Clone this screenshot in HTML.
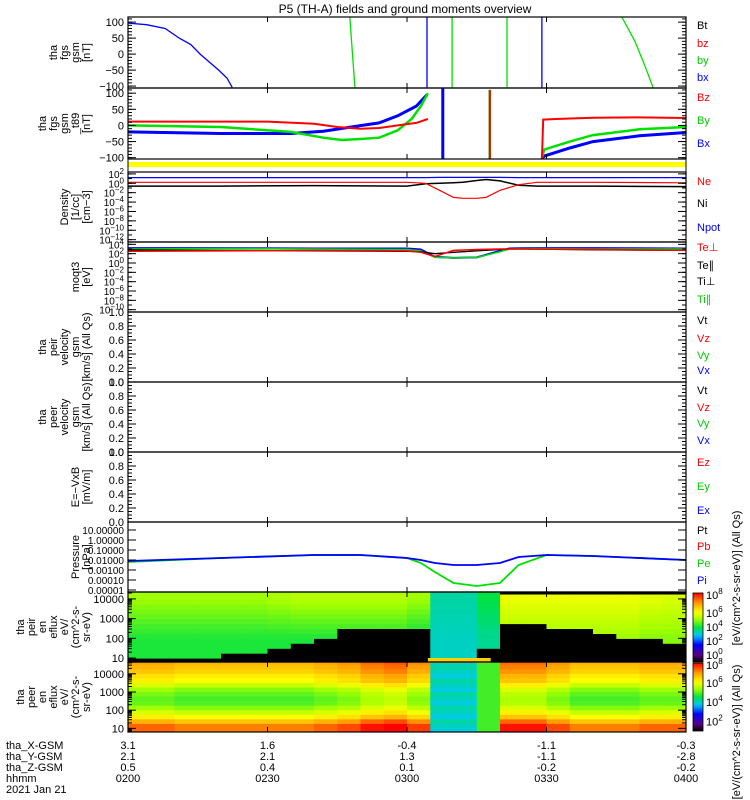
<!DOCTYPE html>
<html><head><meta charset="utf-8"><style>
html,body{margin:0;padding:0;background:#fff;}
svg{display:block;font-family:"Liberation Sans",sans-serif;}
text{font-family:"Liberation Sans",sans-serif;}
</style></head><body>
<svg id="chart" width="750" height="800" viewBox="0 0 750 800" xmlns="http://www.w3.org/2000/svg">
<rect x="0" y="0" width="750" height="800" fill="#fff"/>
<text x="405" y="13" font-size="12" text-anchor="middle">P5 (TH-A) fields and ground moments overview</text>
<g id="g"></g>
</svg>
<script>
// ---------- data ----------
const fgsBxT=[0,4,8,11,13.5,15.5,17.5,19.5,21.3,22.4,null,64.3,64.3,null,89,89];
const fgsBxV=[97,92,80,50,30,0,-25,-50,-75,-104,null,116,-104,null,116,-104];
const fgsByT=[47.7,48.8,null,69.7,69.7,null,81.5,81.5,null,106.2,109,111,112.9];
const fgsByV=[116,-104,null,116,-104,null,116,-104,null,116,40,-30,-104];
const gsmBzT=[0,30,40,45,50,54,58,62,64.5,null,77.8,77.8,null,89,89.3,92,100,110,120];
const gsmBzV=[12,12,5,-5,-10,-8,0,8,20,null,110,-104,null,-104,18,20,24,25,23];
const gsmByT=[0,20,35,42,46,50,54,58,61,63,64.5,null,77.8,77.8,null,89,89.5,95,100,110,120];
const gsmByV=[0,-5,-20,-38,-45,-42,-38,-15,20,60,100,null,110,-104,null,-100,-75,-50,-30,-12,-5];
const gsmBxT=[0,20,35,42,48,54,58,62,64.3,null,67.7,67.7,null,89,89.5,95,100,110,120];
const gsmBxV=[-20,-25,-25,-18,-5,8,30,60,95,null,116,-104,null,-104,-95,-70,-50,-32,-22];
const denT=[0,20,40,60,64,67,70,72,75,77,80,84,88,100,120];
const denNpot=[1.2,1.2,1.2,1.2,1.2,1.25,1.25,1.25,1.25,1.25,1.25,1.2,1.2,1.2,1.2];
const denNe=[0.2,0.2,0.2,0.2,0.0,-1.5,-3.0,-3.2,-3.2,-3.0,-1.5,-0.3,0.2,0.2,0.1];
const denNi=[-0.6,-0.6,-0.5,-0.6,-0.1,0.0,0.1,0.2,0.6,0.8,0.5,-0.4,-0.6,-0.6,-0.7];
const tmpT=[0,20,40,60,63,66,70,75,80,82,85,100,120];
const tmpTeperp=[2.5,2.6,2.7,2.6,2.3,1.4,2.7,2.9,3.0,3.0,3.0,2.9,2.7];
const tmpTepar=[2.8,2.7,2.6,2.5,2.4,2.0,2.3,2.6,2.9,3.0,3.0,2.8,2.7];
const tmpTiperp=[3.0,3.1,3.0,2.9,2.6,1.2,1.1,1.2,2.4,3.0,3.1,3.0,3.0];
const tmpTipar=[3.2,3.2,3.1,3.1,2.9,1.3,1.1,1.2,2.6,3.1,3.2,3.2,3.1];
const prT=[0,20,40,50,60,63,66,70,75,80,84,90,100,120];
const prPi=[-2.1,-1.8,-1.5,-1.5,-1.8,-2.0,-2.3,-2.5,-2.5,-2.3,-1.7,-1.5,-1.6,-2.0];
const prPe=[-2.2,-1.8,-1.5,-1.5,-1.8,-2.3,-3.2,-4.3,-4.6,-4.3,-2.5,-1.5,-1.6,-2.0];
const specTimes=[2.5,7.5,12.5,17.5,22.5,27.5,32.5,37.5,42.5,47.5,52.5,57.5,62.5,67.5,72.5,77.5,82.5,87.5,92.5,97.5,102.5,107.5,112.5,117.5];
const peirTop=[0.62,0.62,0.62,0.62,0.62,0.62,0.63,0.64,0.64,0.64,0.64,0.64,0.62,0.44,0.44,0.5,0.7,0.7,0.7,0.7,0.7,0.7,0.69,0.68];
const peirMid=[0.52,0.52,0.52,0.52,0.52,0.52,0.52,0.52,0.52,0.52,0.52,0.52,0.5,0.42,0.42,0.45,0.62,0.62,0.62,0.62,0.62,0.62,0.6,0.6];
const peirCut=[1.0,1.0,1.0,1.1,1.2,1.3,1.5,1.8,2.1,2.4,2.5,2.6,2.5,0.5,0.5,1.5,2.7,2.7,2.6,2.5,2.3,2.1,1.9,1.8];
const peerLogE=[0.9,1.15,1.4,1.65,1.9,2.15,2.4,2.65,2.9,3.15,3.4,3.65,3.9,4.15,4.4,4.65];
const peerProfile=[0.88,0.88,0.8,0.72,0.66,0.6,0.56,0.55,0.57,0.6,0.66,0.72,0.74,0.78,0.8,0.82];
const peerShift=[0.02,0.02,0,0,0,0,0,0,0.02,0.04,0.08,0.1,0.05,-0.3,-0.3,-0.1,0.08,0.08,0.04,0,0,0,0.02,0.02];
const bottomX=["3.1","1.6","-0.4","-1.1","-0.3"];
const bottomY=["2.1","2.1","1.3","-1.1","-2.8"];
const bottomZ=["0.5","0.4","0.1","-0.2","-0.2"];
const bottomH=["0200","0230","0300","0330","0400"];
const tickTimes=[0,30,60,90,120];
// ---------- helpers ----------
const NS="http://www.w3.org/2000/svg";
const G=document.getElementById('g');
const X0=128,X1=686;
function xS(t){return X0+t/120*(X1-X0);}
function mk(tag,attrs,parent){const e=document.createElementNS(NS,tag);for(const k in attrs)e.setAttribute(k,attrs[k]);(parent||G).appendChild(e);return e;}
function yLin(p,v){return p.y1-(v-p.lo)/(p.hi-p.lo)*(p.y1-p.y0);}
function line(p,ts,vs,color,w,name){
  let d="",pen=false;
  for(let i=0;i<ts.length;i++){
    if(ts[i]===null||vs[i]===null){pen=false;continue;}
    const x=xS(ts[i]).toFixed(1),y=yLin(p,vs[i]).toFixed(1);
    d+=(pen?"L":"M")+x+" "+y;pen=true;
  }
  const e=mk('path',{d:d,fill:'none',stroke:color,'stroke-width':w||1,'clip-path':'url(#c'+p.id+')'});
  
  
}
function panel(p){
  const cp=mk('clipPath',{id:'c'+p.id});
  mk('rect',{x:X0,y:p.y0,width:X1-X0,height:p.y1-p.y0},cp);
}
function frame(p,name){
  const r=mk('rect',{x:X0,y:p.y0,width:X1-X0,height:p.y1-p.y0,fill:'none',stroke:'#000','stroke-width':1.2});
  
  
  tickTimes.forEach(t=>{const x=xS(t);mk('line',{x1:x,x2:x,y1:p.y0,y2:p.y0+5,stroke:'#000'});mk('line',{x1:x,x2:x,y1:p.y1,y2:p.y1-5,stroke:'#000'});});
}
function yTicks(p,majors,labels,minors,sup,fs){
  fs=fs||11;
  majors.forEach((v,i)=>{const y=yLin(p,v);
    mk('line',{x1:X0,x2:X0+8,y1:y,y2:y,stroke:'#000'});mk('line',{x1:X1,x2:X1-8,y1:y,y2:y,stroke:'#000'});
    const t=mk('text',{x:124,y:y+4,'font-size':fs,'text-anchor':'end'});
    if(sup){t.textContent='10';const s=mk('tspan',{dy:-4,'font-size':8},t);s.textContent=labels[i];}
    else t.textContent=labels[i];
    
    
  });
  (minors||[]).forEach(v=>{const y=yLin(p,v);mk('line',{x1:X0,x2:X0+4,y1:y,y2:y,stroke:'#000'});mk('line',{x1:X1,x2:X1-4,y1:y,y2:y,stroke:'#000'});});
}
function ylabel(p,lines,name){
  const cy=(p.y0+p.y1)/2;const n=lines.length;
  const g=mk('g',{});
  
  
  lines.forEach((s,i)=>{const x=90-(n-1-i)*11;
    const t=mk('text',{x:x,y:cy,'font-size':11,'text-anchor':'middle',transform:'rotate(-90 '+x+' '+cy+')'},g);t.textContent=s;});
}
function legend(items){
  items.forEach(it=>{const t=mk('text',{x:697,y:it[2],'font-size':11,fill:it[1]});t.textContent=it[0];
    
    });
}
function range(a,b,s){const r=[];for(let v=a;v<=b+1e-9;v+=s)r.push(+v.toFixed(4));return r;}
const stops=[[0,[0,0,0]],[0.1,[90,0,130]],[0.25,[0,0,255]],[0.38,[0,200,255]],[0.5,[0,225,70]],[0.62,[160,255,0]],[0.72,[255,255,0]],[0.85,[255,160,0]],[1,[255,0,0]]];
function cmap(v){v=Math.max(0,Math.min(1,v));for(let i=1;i<stops.length;i++){if(v<=stops[i][0]){const a=stops[i-1],b=stops[i];const f=(v-a[0])/(b[0]-a[0]);const c=a[1].map((x,k)=>Math.round(x+(b[1][k]-x)*f));return 'rgb('+c.join(',')+')';}}return 'rgb(255,0,0)';}

// ---------- panels ----------
const P1={id:1,y0:17,y1:88,lo:-106,hi:116};
const P2={id:2,y0:88,y1:159,lo:-104,hi:116};
const P3={id:3,y0:172,y1:242,lo:-12.5,hi:2.4};
const P4={id:4,y0:242,y1:312,lo:-10.5,hi:4.5};
const P5={id:5,y0:312,y1:382,lo:0,hi:1};
const P6={id:6,y0:382,y1:452,lo:0,hi:1};
const P7={id:7,y0:452,y1:522,lo:0,hi:1};
const P8={id:8,y0:522,y1:592,lo:-5.2,hi:1.8};
const P9={id:9,y0:592,y1:662,lo:0.8,hi:4.35};
const P10={id:10,y0:662,y1:732,lo:0.8,hi:4.65};
[P1,P2,P3,P4,P5,P6,P7,P8,P9,P10].forEach(panel);

// spectrograms
function spec(p,valFn,rows,name){
  const g=mk('g',{'clip-path':'url(#c'+p.id+')'});
  
  
  const w=(X1-X0)/specTimes.length;
  specTimes.forEach((t,i)=>{
    rows.forEach((le,j)=>{
      const yT=yLin(p,le+0.125),yB=yLin(p,le-0.125);
      const r=mk('rect',{x:(xS(t)-w/2).toFixed(1),y:yT.toFixed(1),width:(w+0.6).toFixed(1),height:(yB-yT+0.6).toFixed(1),fill:cmap(valFn(i,le,j))},g);
      
      
    });
  });
}
const peirRows=range(0.875,4.375,0.25);
spec(P9,(i,le)=>{
  if(le<peirCut[i])return 0;
  if(i>=16&&le>4.2)return 0;
  const f=Math.min(1,Math.max(0,(le-2)/2));
  return peirMid[i]+(peirTop[i]-peirMid[i])*f;
},peirRows,'peir-spectrogram');
spec(P10,(i,le,j)=>{
  const s=peerShift[i];
  if(s<-0.2)return 0.4+0.02*(j%3);
  if(s<0)return 0.55;
  return peerProfile[j]+s*(le<1.5?1.3:1);
},peerLogE,'peer-spectrogram');
const ob=mk('rect',{x:xS(64.5),y:658,width:xS(78)-xS(64.5),height:5,fill:'#ffd000'});



// yellow bar
const yb=mk('rect',{x:X0,y:162,width:X1-X0,height:5,fill:'#ffff00'});



// series
line(P1,fgsBxT,fgsBxV,'#0000ff',1.3,'fgs-bx-line');
line(P1,fgsByT,fgsByV,'#00e000',1.3,'fgs-by-line');
line(P2,gsmBxT,gsmBxV,'#0000ff',3,'gsm-bx-line');
line(P2,gsmByT,gsmByV,'#00e000',2.5,'gsm-by-line');
line(P2,gsmBzT,gsmBzV,'#ff0000',2,'gsm-bz-line');
line(P3,denT,denNpot,'#0000ff',1.2,'density-npot-line');
line(P3,denT,denNi,'#000000',1.5,'density-ni-line');
line(P3,denT,denNe,'#ff0000',1.2,'density-ne-line');
line(P4,tmpT,tmpTipar,'#0000ff',2,'ti-par-line');
line(P4,tmpT,tmpTiperp,'#00e000',1.5,'ti-perp-line');
line(P4,tmpT,tmpTepar,'#000000',1.3,'te-par-line');
line(P4,tmpT,tmpTeperp,'#ff0000',1.5,'te-perp-line');
line(P8,prT,prPe,'#00e000',1.8,'pressure-pe-line');
line(P8,prT,prPi,'#0000ff',1.8,'pressure-pi-line');

// frames & ticks
const f10=[P1,P2,P3,P4,P5,P6,P7,P8,P9,P10];
const fnames=['fgs-panel','fgs-gsm-panel','density-panel','temperature-panel','peir-velocity-panel','peer-velocity-panel','efield-panel','pressure-panel','peir-spec-panel','peer-spec-panel'];
f10.forEach((p,i)=>frame(p,fnames[i]));
mk('rect',{x:X0,y:159,width:X1-X0,height:13,fill:'none',stroke:'#000'});
yTicks(P1,[100,50,0,-50,-100],['100','50','0','\u221250','\u2212100'],range(-100,110,10));
yTicks(P2,[100,50,0,-50,-100],['100','50','0','\u221250','\u2212100'],range(-100,110,10));
yTicks(P3,[2,0,-2,-4,-6,-8,-10,-12],['2','0','\u22122','\u22124','\u22126','\u22128','\u221210','\u221212'],range(-12,2,1),true,10);
yTicks(P4,[4,2,0,-2,-4,-6,-8,-10],['4','2','0','\u22122','\u22124','\u22126','\u22128','\u221210'],range(-10,4,1),true,10);
[P5,P6,P7].forEach(p=>yTicks(p,[0,0.2,0.4,0.6,0.8,1],['0.0','0.2','0.4','0.6','0.8','1.0'],range(0,1,0.05)));
yTicks(P8,[1,0,-1,-2,-3,-4,-5],['10.00000','1.00000','0.10000','0.01000','0.00100','0.00010','0.00001'],[],false,10);
yTicks(P9,[1,2,3,4],['10','100','1000','10000'],[]);
yTicks(P10,[1,2,3,4],['10','100','1000','10000'],[]);
[P9,P10].forEach(p=>{for(let d=1;d<=4;d++)for(let k=2;k<10;k++){const v=d+Math.log10(k);if(v<p.hi){const y=yLin(p,v);mk('line',{x1:X0,x2:X0+4,y1:y,y2:y,stroke:'#000'});mk('line',{x1:X1,x2:X1-4,y1:y,y2:y,stroke:'#000'});}}
  for(let k=7;k<10;k++){const y=yLin(p,Math.log10(k));mk('line',{x1:X0,x2:X0+4,y1:y,y2:y,stroke:'#000'});}});

// y labels
ylabel(P1,['tha','fgs','gsm','[nT]'],'fgs-y-label');
ylabel(P2,['tha','fgs','gsm','_t89','[nT]'],'fgs-gsm-y-label');
ylabel(P3,['Density','[1/cc]','[cm\u22123]'],'density-y-label');
ylabel(P4,['moqt3','[eV]'],'temperature-y-label');
ylabel(P5,['tha','peir','velocity','gsm','[km/s] (All Qs)'],'peir-velocity-y-label');
ylabel(P6,['tha','peer','velocity','gsm','[km/s] (All Qs)'],'peer-velocity-y-label');
ylabel(P7,['E=\u2212VxB','[mV/m]'],'efield-y-label');
ylabel(P8,['Pressure','[nPa]'],'pressure-y-label');
ylabel(P9,['tha','peir','en','eflux','eV/','(cm^2-s-','sr-eV)'],'peir-spec-y-label');
ylabel(P10,['tha','peer','en','eflux','eV/','(cm^2-s-','sr-eV)'],'peer-spec-y-label');

// legends
legend([['Bt','#000',29],['bz','#ff0000',47],['by','#00cc00',64],['bx','#0000ff',81],
['Bz','#ff0000',101],['By','#00cc00',124],['Bx','#0000ff',147],
['Ne','#ff0000',185],['Ni','#000',207],['Npot','#0000ff',231],
['Te\u22a5','#ff0000',251],['Te\u2225','#000',269],['Ti\u22a5','#000',285],['Ti\u2225','#00cc00',303],
['Vt','#000',324],['Vz','#ff0000',342],['Vy','#00cc00',359],['Vx','#0000ff',374],
['Vt','#000',394],['Vz','#ff0000',411],['Vy','#00cc00',427],['Vx','#0000ff',444],
['Ez','#ff0000',466],['Ey','#00cc00',490],['Ex','#0000ff',514],
['Pt','#000',534],['Pb','#ff0000',550],['Pe','#00cc00',567],['Pi','#0000ff',584]]);

// colorbars
const defs=mk('defs',{});
const lg=mk('linearGradient',{id:'cb',x1:0,y1:1,x2:0,y2:0},defs);
for(let i=0;i<=20;i++)mk('stop',{offset:(i/20),'stop-color':cmap(i/20)},lg);
[[593,662,['6','4','2','0'],'peir-colorbar'],[663,731,['6','4','2'],'peer-colorbar']].forEach(c=>{
  const r=mk('rect',{x:693,y:c[0],width:10,height:c[1]-c[0],fill:'url(#cb)',stroke:'#000','stroke-width':0.8});
  
  
  const top=mk('text',{x:706,y:c[0]+6,'font-size':11});top.textContent='10';const st=mk('tspan',{dy:-5,'font-size':8},top);st.textContent='8';
  c[2].forEach((l,i)=>{const y=c[0]+20+i*((c[1]-c[0]-20)/Math.max(1,c[2].length-0.5));const t=mk('text',{x:706,y:y+4,'font-size':11});t.textContent='10';const s=mk('tspan',{dy:-5,'font-size':8},t);s.textContent=l;});
});
[[740,578,'peir-colorbar-title'],[740,732,'peer-colorbar-title']].forEach(c=>{
  const t=mk('text',{x:c[0],y:c[1],'font-size':11,'text-anchor':'middle',transform:'rotate(-90 '+c[0]+' '+c[1]+')'});
  t.textContent='[eV/(cm^2-s-sr-eV)] (All Qs)';
  
  
});

// bottom annotation
const rowsY=[749,760,771,782];
const rowNames=['tha_X-GSM','tha_Y-GSM','tha_Z-GSM','hhmm'];
const rowVals=[bottomX,bottomY,bottomZ,bottomH];
rowNames.forEach((n,r)=>{
  const t=mk('text',{x:6,y:rowsY[r],'font-size':11});t.textContent=n;
  
  
  rowVals[r].forEach((v,i)=>{const x=xS(tickTimes[i]);const tt=mk('text',{x:x,y:rowsY[r],'font-size':11,'text-anchor':'middle'});tt.textContent=v;
    
    });
});
const dt=mk('text',{x:6,y:793,'font-size':11});dt.textContent='2021 Jan 21';


</script>
</body></html>
